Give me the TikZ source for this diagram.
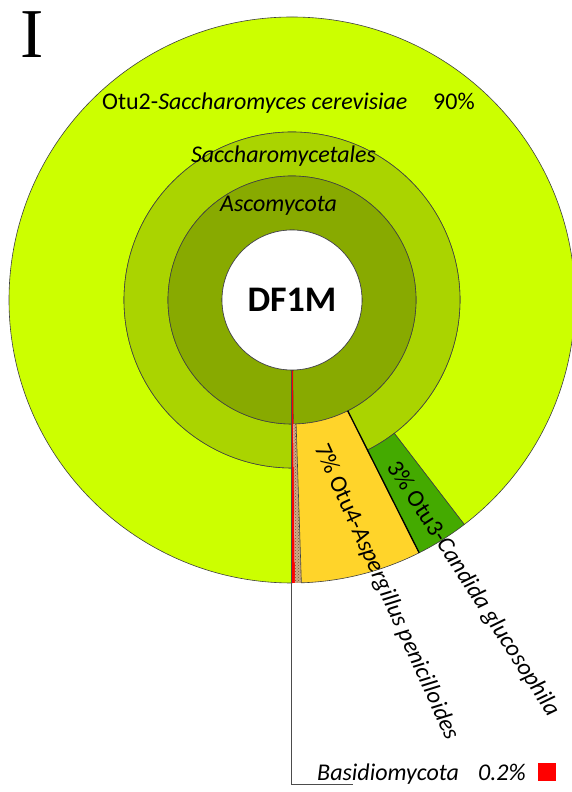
\documentclass[tikz,border=0pt]{standalone}
\usepackage{fontspec}
\setmainfont{Carlito}
\newfontfamily\panelfont{Liberation Serif}
\usetikzlibrary{patterns}

\definecolor{otulime}{RGB}{204,255,0}
\definecolor{orderring}{RGB}{170,212,0}
\definecolor{phylumring}{RGB}{136,170,0}
\definecolor{aspyellow}{RGB}{255,212,42}
\definecolor{candgreen}{RGB}{68,170,0}
\definecolor{basired}{RGB}{255,0,0}
\definecolor{hatchtan}{RGB}{205,170,135}
\definecolor{hatchbrown}{RGB}{120,80,50}

\tikzset{
  seg/.style={draw=black!75, line width=0.6pt},
  lbl/.style={font=\fontsize{24}{28}\selectfont, inner sep=0pt},
  ranklbl/.style={font=\fontsize{24}{28}\selectfont\itshape, inner sep=0pt, anchor=base},
  leader/.style={draw=black!70, line width=0.7pt},
}

% annular sector: start angle, end angle, inner radius, outer radius, style
\newcommand\ringwedge[5]{%
  \path[#5] ([shift={(#1:#3pt)}]C) arc[start angle=#1, end angle=#2, radius=#3pt]
    -- ([shift={(#2:#4pt)}]C) arc[start angle=#2, end angle=#1, radius=#4pt] -- cycle;}

\begin{document}
\begin{tikzpicture}[x=1pt, y=1pt]
\useasboundingbox (0,0) rectangle (572,792);
\coordinate (C) at (292,492);

% outer ring: OTU level
\ringwedge{-52.5}{270}{168}{283}{seg, fill=otulime}
% middle ring: order level
\ringwedge{-63.3}{270}{124}{168}{seg, fill=orderring}
% inner ring: phylum level
\ringwedge{-89.4}{270}{70}{124}{seg, fill=phylumring}
% small slices
\ringwedge{-90}{-89.4}{70}{283}{fill=basired}
\ringwedge{-89.4}{-88.1}{124}{283}{fill=hatchtan}
\ringwedge{-89.4}{-88.1}{124}{283}{pattern=crosshatch dots, pattern color=hatchbrown}
\ringwedge{-88.1}{-63.3}{124}{283}{seg, fill=aspyellow}
\ringwedge{-63.3}{-52.5}{168}{283}{seg, fill=candgreen}
\draw[line width=1.3pt] ([shift={(-63.3:124pt)}]C) -- ([shift={(-63.3:283pt)}]C);

% centre
\node[circle, draw=black!75, line width=0.6pt, fill=white, minimum size=140pt, inner sep=0pt,
      font=\fontsize{36}{40}\selectfont\bfseries] (root) at (C) {DF1M};

% leader to the Basidiomycota legend
\coordinate (leadstart) at ([xshift=-0.5pt]root.south);
\coordinate (bend) at (291.5,8);
\coordinate (legendend) at (353,8);
\draw[leader] (leadstart) -- (bend) -- (legendend);

% labels
\node[font=\panelfont\fontsize{70}{76}\selectfont, inner sep=0pt] (panel) at (32,757) {I};
\node[lbl, anchor=base west] (otu2) at (102,682) {Otu2-\textit{Saccharomyces cerevisiae}};
\node[lbl, anchor=base west] (otu2pct) at (433,682) {90\%};
\node[ranklbl] (order) at (283.5,629) {Saccharomycetales};
\node[ranklbl] (phylum) at (278.5,580) {Ascomycota};
\node[lbl, rotate=-65.7, anchor=west] (otu4) at (320,346) {7\% Otu4-\textit{Aspergillus penicilloides}};
\node[lbl, rotate=-57.1, anchor=west] (otu3) at (392,328) {3\% Otu3-\textit{Candida glucosophila}};
\node[lbl, anchor=base west, font=\fontsize{24}{28}\selectfont\itshape] (basi) at (317,12) {Basidiomycota};
\node[lbl, anchor=base west, font=\fontsize{24}{28}\selectfont\itshape] (basipct) at (478,12) {0.2\%};
\fill[basired] (538,11) rectangle (556,29);
\end{tikzpicture}
\end{document}
